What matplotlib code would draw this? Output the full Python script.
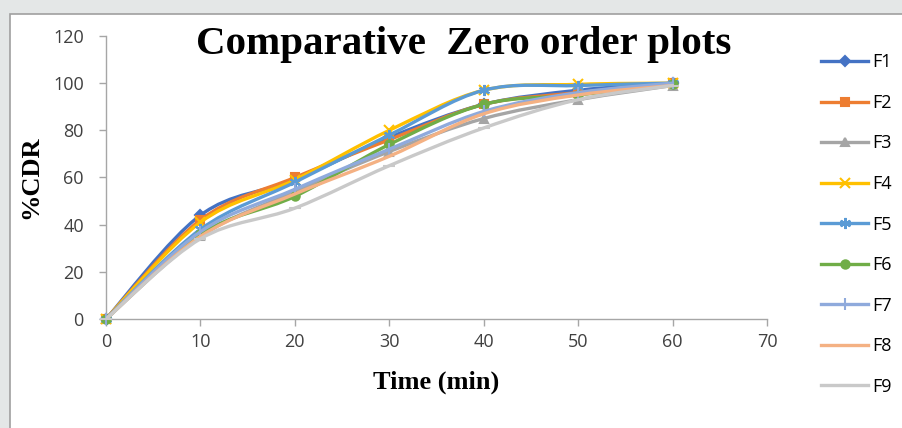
import numpy as np
import matplotlib.pyplot as plt
from matplotlib.path import Path
from matplotlib.patches import PathPatch, Rectangle
from matplotlib.lines import Line2D

# Cumulative drug release (%CDR) vs time for formulations F1-F9
time_min = [0, 10, 20, 30, 40, 50, 60]
F1 = [0, 44, 59, 77, 91, 97, 100]
F2 = [0, 42, 60, 76, 91, 96, 100]
F3 = [0, 35, 54, 71, 85, 93, 99]
F4 = [0, 41, 59, 80, 97, 99.5, 100]
F5 = [0, 38, 58, 78, 97, 99, 100]
F6 = [0, 36, 52, 74, 91, 95, 99.5]
F7 = [0, 37, 55, 72, 88, 96, 100]
F8 = [0, 35, 53, 69, 87, 95, 99]
F9 = [0, 34, 47, 65, 81, 93, 99]

labels = ['F1', 'F2', 'F3', 'F4', 'F5', 'F6', 'F7', 'F8', 'F9']
series = [F1, F2, F3, F4, F5, F6, F7, F8, F9]
colors = ['#4472C4', '#ED7D31', '#A5A5A5', '#FFC000', '#5B9BD5',
          '#70AD47', '#8FAADC', '#F4B183', '#C9C9C9']
markers = ['D', 's', '^', 'x', (6, 2, 0), 'o', '|', '_', '_']
msizes = [5, 6, 6, 7, 8, 6, 8, 0, 8]


def smooth_path(x, y):
    # Bezier path through the points (Catmull-Rom style tangents)
    pts = np.column_stack([x, y]).astype(float)
    n = len(pts)
    verts = [pts[0]]
    codes = [Path.MOVETO]
    for i in range(n - 1):
        p0 = pts[i - 1] if i > 0 else pts[i]
        p1, p2 = pts[i], pts[i + 1]
        p3 = pts[i + 2] if i + 2 < n else pts[i + 1]
        c1 = p1 + (p2 - p0) / 6.0
        c2 = p2 - (p3 - p1) / 6.0
        verts += [c1, c2, p2]
        codes += [Path.CURVE4] * 3
    return Path(verts, codes)


fig = plt.figure(figsize=(9.03, 4.28), dpi=100, facecolor='#e4e7e7')
fig.patches.append(Rectangle((10 / 903, -0.05), 1.0, 1.05 - 14 / 428,
                             transform=fig.transFigure, facecolor='white',
                             edgecolor='#a0a0a0', linewidth=1.2, zorder=-5))

ax = fig.add_axes([106 / 903, 109 / 428, 661 / 903, 283 / 428])
ax.set_facecolor('none')

handles = []
for i, (lab, vals) in enumerate(zip(labels, series)):
    ax.add_patch(PathPatch(smooth_path(time_min, vals), facecolor='none',
                           edgecolor=colors[i], linewidth=2.4, zorder=2 + i,
                           capstyle='round'))
    if msizes[i] > 0:
        ax.plot(time_min, vals, linestyle='none', marker=markers[i],
                markersize=msizes[i], color=colors[i],
                markeredgewidth=1.5, zorder=2 + i, clip_on=False)
    handles.append(Line2D([], [], color=colors[i], linewidth=2.4,
                          marker=markers[i], markersize=msizes[i],
                          markeredgewidth=1.5))

ax.set_xlim(0, 70)
ax.set_ylim(0, 120)
ax.set_xticks(range(0, 71, 10))
ax.set_yticks(range(0, 121, 20))
for s in ['top', 'right']:
    ax.spines[s].set_visible(False)
for s in ['left', 'bottom']:
    ax.spines[s].set_color('#a6a6a6')
    ax.spines[s].set_linewidth(1.0)
ax.tick_params(direction='out', length=5, width=1.0, color='#a6a6a6',
               labelsize=13, labelcolor='#404040')
ax.tick_params(axis='y', pad=11)
ax.tick_params(axis='x', pad=5)
for t in ax.get_xticklabels() + ax.get_yticklabels():
    t.set_family('Open Sans')

ax.set_xlabel('Time (min)', family='Liberation Serif', fontweight='bold',
              fontsize=19, labelpad=14)
ax.set_ylabel('%CDR', family='Liberation Serif', fontweight='bold',
              fontsize=19, labelpad=8)
fig.text(464 / 903, 1 - 54 / 428, 'Comparative  Zero order plots',
         family='Liberation Serif', fontweight='bold', fontsize=29.5,
         ha='center', va='baseline')

leg = fig.legend(handles, labels, loc='upper left',
                 bbox_to_anchor=(805 / 903, 1 - 37 / 428), frameon=False,
                 prop={'family': 'Open Sans', 'size': 13},
                 handlelength=2.6, handletextpad=0.2, labelspacing=1.25)

fig.savefig('out.png', dpi=100, facecolor=fig.get_facecolor())
